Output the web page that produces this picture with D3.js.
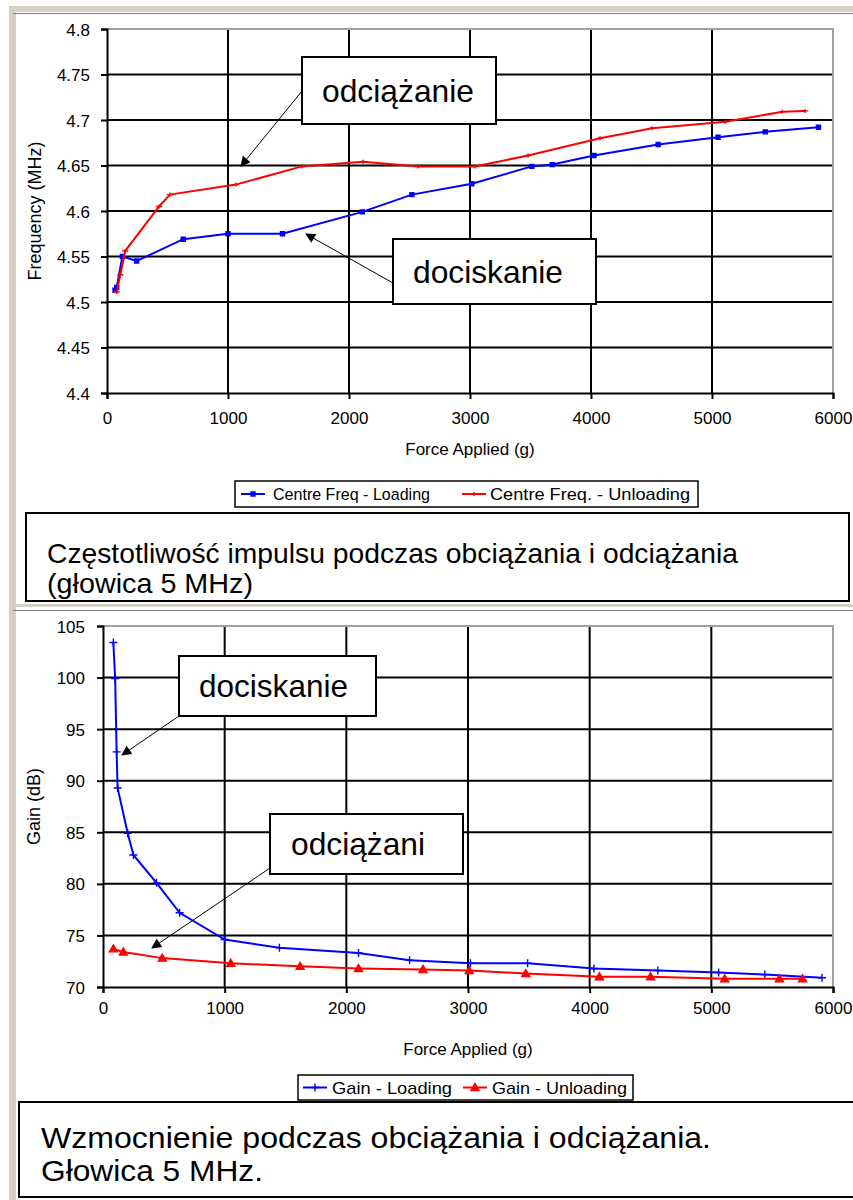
<!DOCTYPE html>
<html>
<head>
<meta charset="utf-8">
<script src="https://cdn.jsdelivr.net/npm/d3@7"></script>
<style>
  body { margin: 0; background: #fff; }
  svg text { font-family: "Liberation Sans", Arial, sans-serif; }
</style>
</head>
<body>
<div id="container"></div>
<script>
// Page size
var svg_width = 853
var svg_height = 1200

//
// Data
var xTicks = [0, 1000, 2000, 3000, 4000, 5000, 6000]

var freqTicks = [4.4, 4.45, 4.5, 4.55, 4.6, 4.65, 4.7, 4.75, 4.8]
var freqLoadX = [66, 80, 127, 245, 630, 1000, 1450, 2110, 2520, 3015, 3510, 3680, 4025, 4555, 5050, 5440, 5880]
var freqLoadY = [4.513, 4.516, 4.55, 4.545, 4.569, 4.575, 4.575, 4.599, 4.618, 4.63, 4.649, 4.651, 4.661, 4.673, 4.681, 4.687, 4.692]
var freqUnloadX = [80, 110, 150, 430, 520, 1065, 1610, 2115, 2570, 3040, 3480, 4075, 4505, 5110, 5580, 5770]
var freqUnloadY = [4.511, 4.53, 4.556, 4.605, 4.618, 4.629, 4.649, 4.654, 4.649, 4.649, 4.661, 4.68, 4.691, 4.698, 4.709, 4.71]

var gainTicks = [70, 75, 80, 85, 90, 95, 100, 105]
var gainLoadX = [85, 100, 112, 120, 203, 250, 440, 630, 1000, 1450, 2100, 2520, 3020, 3490, 4035, 4560, 5060, 5440, 5910]
var gainLoadY = [103.4, 99.9, 92.8, 89.3, 84.9, 82.8, 80.1, 77.2, 74.6, 73.8, 73.3, 72.6, 72.3, 72.3, 71.8, 71.6, 71.4, 71.2, 70.9]
var gainUnloadX = [85, 167, 487, 1050, 1620, 2100, 2630, 3010, 3475, 4080, 4500, 5110, 5560, 5750]
var gainUnloadY = [73.7, 73.4, 72.8, 72.3, 72.0, 71.8, 71.7, 71.6, 71.3, 71.0, 71.0, 70.8, 70.8, 70.8]

var freqLegend = ["Centre Freq - Loading", "Centre Freq. - Unloading"]
var gainLegend = ["Gain - Loading", "Gain - Unloading"]
var freqCaption = ["Częstotliwość impulsu podczas obciążania i odciążania", "(głowica 5 MHz)"]
var gainCaption = ["Wzmocnienie podczas obciążania i odciążania.", "Głowica 5 MHz."]

//
// Creating SVG
var svg = d3.select("#container")
    .append("svg")
    .attr("width", svg_width)
    .attr("height", svg_height)

var defs = svg.append("defs")
defs.append("marker")
    .attr("id", "arrow")
    .attr("viewBox", "0 0 10 10")
    .attr("refX", 9).attr("refY", 5)
    .attr("markerWidth", 14).attr("markerHeight", 10)
    .attr("markerUnits", "userSpaceOnUse")
    .attr("orient", "auto")
    .append("path")
    .attr("d", "M0,0 L10,5 L0,10 Z")
    .attr("fill", "#000")

// window-ish frame: beige strips and grey lines
svg.append("rect").attr("x", 9).attr("y", 6).attr("width", 7).attr("height", svg_height).attr("fill", "#d4d0c8")
svg.append("rect").attr("x", 9).attr("y", 6).attr("width", svg_width).attr("height", 6).attr("fill", "#d4d0c8")
svg.append("line").attr("x1", 13).attr("x2", svg_width).attr("y1", 13.5).attr("y2", 13.5).attr("stroke", "#808080")
svg.append("rect").attr("x", 16).attr("y", 14).attr("width", svg_width).attr("height", 590).attr("fill", "#fff")
svg.append("rect").attr("x", 16).attr("y", 604).attr("width", svg_width).attr("height", 3).attr("fill", "#d4d0c8")
svg.append("line").attr("x1", 13).attr("x2", svg_width).attr("y1", 610.5).attr("y2", 610.5).attr("stroke", "#808080")

function drawChart(opt) {
    var g = svg.append("g")
    var x = d3.scaleLinear().domain([0, 6000]).range([opt.left, opt.right])
    var y = d3.scaleLinear().domain(opt.yDomain).range([opt.bottom, opt.top])

    // grid
    g.selectAll(".vgrid").data(xTicks.slice(1, -1)).enter().append("line")
        .attr("x1", d => x(d)).attr("x2", d => x(d))
        .attr("y1", opt.top).attr("y2", opt.bottom)
        .attr("stroke", "#000").attr("stroke-width", 2)
    g.selectAll(".hgrid").data(opt.yTicks.slice(1, -1)).enter().append("line")
        .attr("x1", opt.left).attr("x2", opt.right)
        .attr("y1", d => y(d)).attr("y2", d => y(d))
        .attr("stroke", "#000").attr("stroke-width", 2)
    // plot border (top/right grey)
    g.append("path")
        .attr("d", `M${opt.left},${opt.top}H${opt.right}V${opt.bottom}`)
        .attr("fill", "none").attr("stroke", "#a0a0a0").attr("stroke-width", 2)

    // axes
    var xAxis = d3.axisBottom(x).tickValues(xTicks).tickSize(6).tickFormat(d3.format("d"))
    var yAxis = d3.axisLeft(y).tickValues(opt.yTicks).tickSize(6).tickFormat(d => d)
    var gx = g.append("g").attr("transform", `translate(0,${opt.bottom})`).call(xAxis)
    var gy = g.append("g").attr("transform", `translate(${opt.left},0)`).call(yAxis)
    ;[gx, gy].forEach(function(a){
        a.select(".domain").attr("stroke", "#000").attr("stroke-width", 2)
        a.selectAll(".tick line").attr("stroke", "#000").attr("stroke-width", 2)
        a.selectAll(".tick text").attr("fill", "#000").style("font-size", "17px")
    })
    gx.selectAll(".tick text").attr("y", opt.xLabelGap).attr("dy", "0.71em")
    gy.selectAll(".tick text").attr("x", opt.yLabelGap).attr("dy", "0.36em")

    // axis titles
    g.append("text").attr("x", (opt.left + opt.right) / 2).attr("y", opt.bottom + opt.xTitleGap)
        .attr("text-anchor", "middle").attr("dy", "0.35em").style("font-size", "17px").text("Force Applied (g)")
    g.append("text")
        .attr("transform", `translate(${opt.yTitleX},${(opt.top + opt.bottom) / 2}) rotate(-90)`)
        .attr("text-anchor", "middle").attr("dy", "0.35em").style("font-size", "18px").text(opt.yTitle)

    // series
    var line = d3.line().x(d => x(d[0])).y(d => y(d[1]))
    opt.series.forEach(function(s){
        var pts = s.xs.map((v, i) => [v, s.ys[i]])
        g.append("path").datum(pts).attr("d", line)
            .attr("fill", "none").attr("stroke", s.color).attr("stroke-width", 2)
        g.selectAll(null).data(pts).enter().append("path")
            .attr("transform", d => `translate(${x(d[0])},${y(d[1])})`)
            .attr("d", markerPath(s.marker))
            .attr("fill", s.color).attr("stroke", s.color).attr("stroke-width", 1.4)
    })

    // annotations
    opt.notes.forEach(function(n){
        g.append("line").attr("x1", n.from[0]).attr("y1", n.from[1])
            .attr("x2", n.to[0]).attr("y2", n.to[1])
            .attr("stroke", "#000").attr("stroke-width", 1).attr("marker-end", "url(#arrow)")
        g.append("rect").attr("x", n.box[0]).attr("y", n.box[1])
            .attr("width", n.box[2] - n.box[0]).attr("height", n.box[3] - n.box[1])
            .attr("fill", "#fff").attr("stroke", "#000").attr("stroke-width", 2)
        g.append("text").attr("x", n.tx).attr("y", (n.box[1] + n.box[3]) / 2)
            .attr("dy", "0.35em").attr("textLength", n.tw).attr("lengthAdjust", "spacingAndGlyphs")
            .style("font-size", "32px").text(n.text)
    })

    // legend
    var lg = opt.legend
    g.append("rect").attr("x", lg.box[0]).attr("y", lg.box[1])
        .attr("width", lg.box[2] - lg.box[0]).attr("height", lg.box[3] - lg.box[1])
        .attr("fill", "#fff").attr("stroke", "#000").attr("stroke-width", 1.5)
    var cy = (lg.box[1] + lg.box[3]) / 2
    lg.items.forEach(function(it, i){
        var s = opt.series[i]
        g.append("line").attr("x1", it.x0).attr("x2", it.x0 + 24).attr("y1", cy).attr("y2", cy)
            .attr("stroke", s.color).attr("stroke-width", 2)
        g.append("path").attr("transform", `translate(${it.x0 + 12},${cy})`)
            .attr("d", markerPath(s.marker)).attr("fill", s.color).attr("stroke", s.color).attr("stroke-width", 1.4)
        g.append("text").attr("x", it.tx).attr("y", cy).attr("dy", "0.36em")
            .attr("textLength", it.tw).attr("lengthAdjust", "spacingAndGlyphs")
            .style("font-size", "17px").text(lg.labels[i])
    })

    // caption
    var cb = opt.caption
    g.append("rect").attr("x", cb.box[0]).attr("y", cb.box[1])
        .attr("width", cb.box[2] - cb.box[0]).attr("height", cb.box[3] - cb.box[1])
        .attr("fill", "#fff").attr("stroke", "#000").attr("stroke-width", 2)
    cb.lines.forEach(function(t, i){
        g.append("text").attr("x", cb.tx).attr("y", cb.ty[i]).attr("dy", "0.35em")
            .attr("textLength", cb.tw[i]).attr("lengthAdjust", "spacingAndGlyphs")
            .style("font-size", cb.size + "px").text(t)
    })
}

function markerPath(type) {
    if (type === "square") return "M-2,-2H2V2H-2Z"
    if (type === "dash") return "M-3,0H3M0,-2V2"
    if (type === "plus") return "M-4,0H4M0,-4V4"
    if (type === "triangle") return "M0,-4L4,3H-4Z"
    return ""
}

drawChart({
    left: 107, right: 833, top: 29, bottom: 393,
    yDomain: [4.4, 4.8], yTicks: freqTicks,
    xLabelGap: 19, yLabelGap: -17, xTitleGap: 56,
    yTitle: "Frequency (MHz)", yTitleX: 35,
    series: [
        { xs: freqLoadX, ys: freqLoadY, color: "#0000ff", marker: "square" },
        { xs: freqUnloadX, ys: freqUnloadY, color: "#ff0000", marker: "dash" }
    ],
    notes: [
        { text: "odciążanie", box: [302, 57, 496, 124], tx: 322, tw: 152, from: [302, 91], to: [241, 166] },
        { text: "dociskanie", box: [393, 239, 596, 304], tx: 413, tw: 150, from: [393, 283], to: [306, 234] }
    ],
    legend: { box: [235, 481, 698, 507], labels: freqLegend,
        items: [{ x0: 241, tx: 273, tw: 157 }, { x0: 462, tx: 490, tw: 200 }] },
    caption: { box: [26, 513, 849, 601], lines: freqCaption, tx: 47, ty: [553, 583], tw: [691, 206], size: 28 }
})

drawChart({
    left: 103, right: 833, top: 626, bottom: 987,
    yDomain: [70, 105], yTicks: gainTicks,
    xLabelGap: 15, yLabelGap: -18, xTitleGap: 62,
    yTitle: "Gain (dB)", yTitleX: 34,
    series: [
        { xs: gainLoadX, ys: gainLoadY, color: "#0000ff", marker: "plus" },
        { xs: gainUnloadX, ys: gainUnloadY, color: "#ff0000", marker: "triangle" }
    ],
    notes: [
        { text: "dociskanie", box: [179, 656, 376, 716], tx: 199, tw: 149, from: [179, 716], to: [122, 755] },
        { text: "odciążani", box: [270, 814, 463, 874], tx: 291, tw: 134, from: [270, 868], to: [152, 948] }
    ],
    legend: { box: [298, 1075, 633, 1100], labels: gainLegend,
        items: [{ x0: 303, tx: 332, tw: 120 }, { x0: 463, tx: 492, tw: 135 }] },
    caption: { box: [19, 1102, 860, 1197], lines: gainCaption, tx: 41, ty: [1137, 1170], tw: [670, 222], size: 30 }
})
</script>
</body>
</html>
